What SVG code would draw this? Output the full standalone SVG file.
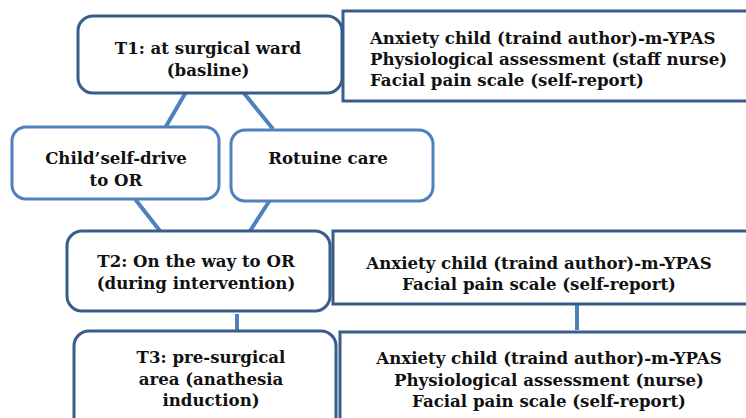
<svg xmlns="http://www.w3.org/2000/svg" width="746" height="418" viewBox="0 0 746 418">
<style>
.dark{fill:#fff;stroke:#385d8a;stroke-width:3}
.light{fill:#fff;stroke:#4f81bd;stroke-width:3}
.conn line{stroke:#4f81bd;stroke-width:4}
text{font-family:"DejaVu Serif","Liberation Serif",serif;font-weight:bold;font-size:16.6px;fill:#111}
.c{text-anchor:middle}
</style>
<rect width="746" height="418" fill="#fff"/>
<g id="connectors" class="conn">
<line x1="186" y1="92" x2="165" y2="128"/>
<line x1="243" y1="92" x2="273" y2="129"/>
<line x1="135" y1="199" x2="160" y2="231"/>
<line x1="270" y1="200" x2="250" y2="231"/>
<line x1="237" y1="314" x2="237" y2="332"/>
<line x1="577" y1="304" x2="577" y2="330"/>
</g>
<g id="t1">
<rect class="dark" x="78" y="16" width="264" height="77" rx="15"/>
<text class="c" x="208" y="54">T1: at surgical ward</text>
<text class="c" x="208" y="76">(basline)</text>
</g>
<g id="m1">
<rect class="dark" x="343" y="11" width="410" height="90"/>
<text x="370" y="44">Anxiety child (traind author)-m-YPAS</text>
<text x="370" y="65">Physiological assessment (staff nurse)</text>
<text x="370" y="86">Facial pain scale (self-report)</text>
</g>
<g id="child">
<rect class="light" x="12" y="127" width="207" height="72" rx="14"/>
<text class="c" x="116" y="164">Child’self-drive</text>
<text class="c" x="116" y="186">to OR</text>
</g>
<g id="routine">
<rect class="light" x="231" y="130" width="202" height="71" rx="14"/>
<text class="c" x="328" y="164">Rotuine care</text>
</g>
<g id="t2">
<rect class="dark" x="67" y="231" width="263" height="80" rx="15"/>
<text class="c" x="196" y="267">T2: On the way to OR</text>
<text class="c" x="196" y="289">(during intervention)</text>
</g>
<g id="m2">
<rect class="dark" x="333" y="231" width="420" height="73"/>
<text class="c" x="539" y="269">Anxiety child (traind author)-m-YPAS</text>
<text class="c" x="539" y="290">Facial pain scale (self-report)</text>
</g>
<g id="t3">
<rect class="dark" x="74" y="331" width="262" height="100" rx="15"/>
<text class="c" x="211" y="363">T3: pre-surgical</text>
<text class="c" x="211" y="385">area (anathesia</text>
<text class="c" x="211" y="406">induction)</text>
</g>
<g id="m3">
<rect class="dark" x="340" y="332" width="420" height="100"/>
<text class="c" x="549" y="364">Anxiety child (traind author)-m-YPAS</text>
<text class="c" x="549" y="386">Physiological assessment (nurse)</text>
<text class="c" x="549" y="407">Facial pain scale (self-report)</text>
</g>
</svg>
